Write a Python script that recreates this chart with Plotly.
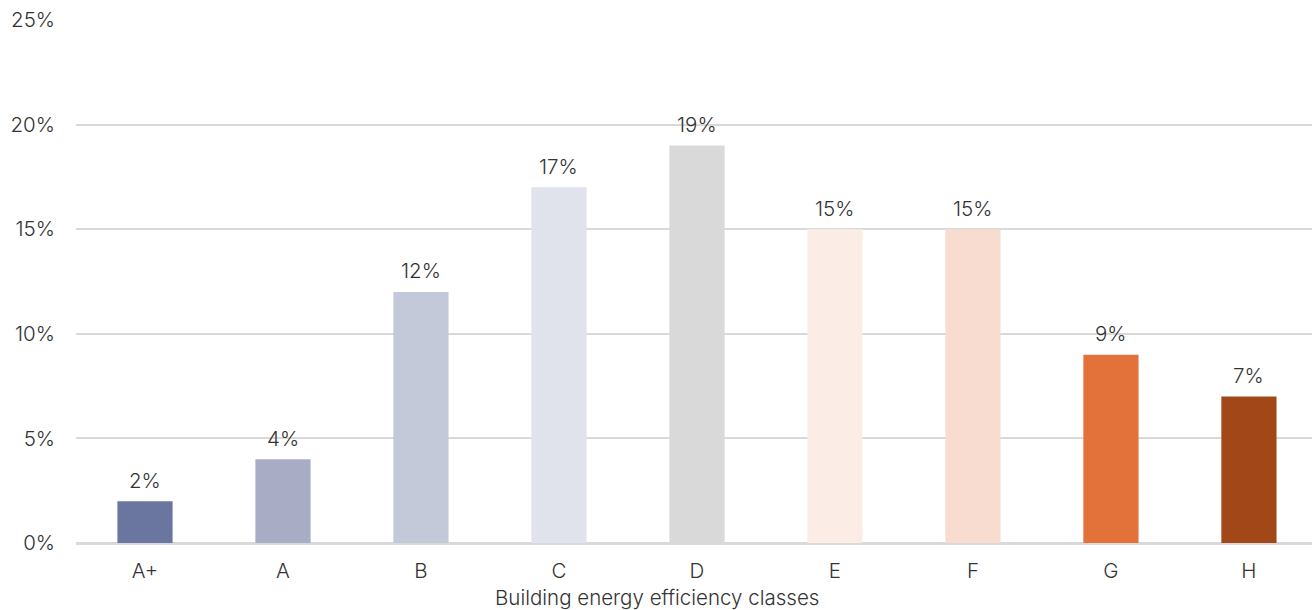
import plotly.graph_objects as go

classes = ["A+", "A", "B", "C", "D", "E", "F", "G", "H"]
shares = [2, 4, 12, 17, 19, 15, 15, 9, 7]
bar_colors = ["#6B76A0", "#A8ACC5", "#C4C9D9", "#E1E3EC", "#D9D9D9",
              "#FBECE5", "#F8DCD0", "#E27239", "#A24818"]
y_ticks = [0, 5, 10, 15, 20, 25]
x_title = "Building energy efficiency classes"

FONT = "Inter"
TEXT = "#333333"
base_font = dict(family=FONT, size=20.5, color=TEXT, weight=300)

fig = go.Figure(
    go.Bar(
        x=classes,
        y=shares,
        width=0.4,
        marker=dict(color=bar_colors, line=dict(width=0)),
        hoverinfo="x+y",
    )
)

# value labels above each bar
labels = [
    dict(
        text=f"{v}%", x=c, y=v, xref="x", yref="y",
        yshift=21, xanchor="center", yanchor="middle",
        showarrow=False, font=base_font,
    )
    for c, v in zip(classes, shares)
]

labels.append(
    dict(
        text=x_title,
        xref="paper", yref="paper",
        x=(657 - 76) / 1236, y=0,
        yshift=-54,
        xanchor="center", yanchor="middle",
        showarrow=False,
        font=base_font,
    )
)

fig.update_layout(
    width=1312,
    height=610,
    margin=dict(l=76, r=0, t=20, b=67),
    plot_bgcolor="white",
    paper_bgcolor="white",
    showlegend=False,
    font=base_font,
    xaxis=dict(
        range=[-0.5, 8.457],
        showgrid=False,
        showline=False,
        ticks="",
        tickfont=base_font,
        ticklabelstandoff=13,
    ),
    yaxis=dict(
        range=[0, 25],
        tickvals=y_ticks,
        ticktext=[f"{v}%" for v in y_ticks],
        showgrid=True,
        gridcolor="#D9D9D9",
        gridwidth=2,
        zeroline=True,
        zerolinecolor="#D9D9D9",
        zerolinewidth=3,
        showline=False,
        ticks="",
        tickfont=base_font,
        ticklabelstandoff=20,
    ),
    annotations=labels,
)

fig.write_html("out.html")
